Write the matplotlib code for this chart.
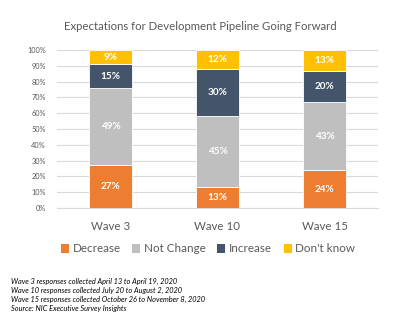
import matplotlib
matplotlib.use("Agg")
import matplotlib.pyplot as plt
import numpy as np
from matplotlib.patches import Patch

plt.rcParams['font.family'] = ['Lato', 'DejaVu Sans']

categories = ["Wave 3", "Wave 10", "Wave 15"]
series_names = ["Decrease", "Not Change", "Increase", "Don't know"]
decrease = [27, 13, 24]
not_change = [49, 45, 43]
increase = [15, 30, 20]
dont_know = [9, 12, 13]
colors = ["#ED7D31", "#BFBFBF", "#44546A", "#FFC000"]
yticks = [0, 10, 20, 30, 40, 50, 60, 70, 80, 90, 100]
footnotes = [
    "Wave 3 responses collected April 13 to April 19, 2020",
    "Wave 10 responses collected July 20 to August 2, 2020",
    "Wave 15 responses collected October 26 to November 8, 2020",
    "Source: NIC Executive Survey Insights",
]

fig = plt.figure(figsize=(4.0, 3.31), dpi=100)
ax = fig.add_axes([0.1425, 0.3716, 0.8025, 0.4774])

x = np.arange(len(categories))
bottom = np.zeros(len(categories))
for vals, col in zip([decrease, not_change, increase, dont_know], colors):
    vals = np.array(vals, dtype=float)
    ax.bar(x, vals, 0.4, bottom=bottom, color=col, edgecolor="white", linewidth=0.6, zorder=3)
    for xi, b, v in zip(x, bottom, vals):
        ax.text(xi, b + v / 2, f"{int(v)}%", ha="center", va="center", color="white",
                fontsize=7.2, fontweight="bold", zorder=4)
    bottom += vals

ax.set_xlim(-0.5, 2.5)
ax.set_ylim(0, 100)
ax.set_yticks(yticks)
ax.set_yticklabels([f"{t}%" for t in yticks], fontsize=5.3, color="#595959")
ax.set_xticks(x)
ax.set_xticklabels(categories, fontsize=8.3, color="#595959")
ax.tick_params(axis="both", length=0)
ax.tick_params(axis="y", pad=8)
ax.tick_params(axis="x", pad=9)
ax.grid(axis="y", color="#D9D9D9", linewidth=0.8, zorder=0)
for s in ["top", "right", "left"]:
    ax.spines[s].set_visible(False)
ax.spines["bottom"].set_color("#D9D9D9")
ax.spines["bottom"].set_linewidth(0.8)

fig.text(0.5, 1 - 26 / 331, "Expectations for Development Pipeline Going Forward",
         ha="center", va="center", fontsize=8.2, color="#595959")

handles = [Patch(facecolor=c, edgecolor="none") for c in colors]
fig.legend(handles, series_names, loc="center", bbox_to_anchor=(0.52, 1 - 249 / 331),
           ncol=4, frameon=False, fontsize=8.4, labelcolor="#595959",
           handlelength=0.7, handleheight=0.7, handletextpad=0.3, columnspacing=1.0)

for i, t in enumerate(footnotes):
    fig.text(11 / 400, 1 - (281 + i * 9.3) / 331, t, ha="left", va="center",
             fontsize=5.3, style="italic", color="#000000")

fig.savefig("out.png", dpi=100)
